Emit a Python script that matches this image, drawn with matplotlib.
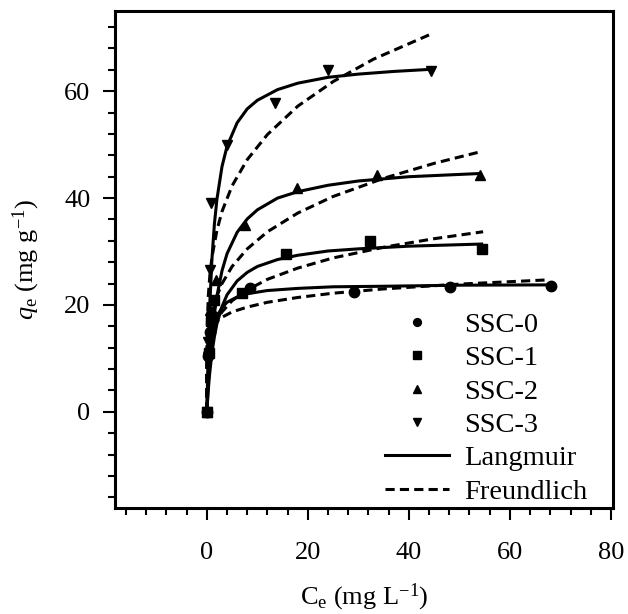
import matplotlib
matplotlib.use('Agg')
import matplotlib.pyplot as plt
from matplotlib.ticker import MultipleLocator

plt.rcParams['font.family'] = ['Liberation Serif', 'DejaVu Serif']
plt.rcParams['mathtext.fontset'] = 'custom'
plt.rcParams['mathtext.rm'] = 'Liberation Serif'
plt.rcParams['mathtext.it'] = 'Liberation Serif:italic'

# measured points (Ce, qe)
ssc0_x = [0, 0.3, 0.6, 1.2, 8.5, 29.2, 48.1, 68.1]
ssc0_y = [0, 10.5, 15.0, 18.0, 23.1, 22.5, 23.4, 23.6]
ssc1_x = [0, 0.4, 0.9, 1.5, 6.9, 15.6, 32.4, 54.4]
ssc1_y = [0, 11.0, 17.0, 21.0, 22.2, 29.5, 32.0, 30.4]
ssc2_x = [0, 0.3, 0.7, 1.9, 7.5, 17.8, 33.6, 54.1]
ssc2_y = [0, 12.0, 19.0, 24.7, 35.0, 41.8, 44.3, 44.3]
ssc3_x = [0, 0.2, 0.6, 0.9, 4.0, 13.5, 24.0, 44.4]
ssc3_y = [0, 13.0, 26.5, 39.0, 50.0, 57.8, 63.9, 63.8]

# Langmuir fit curves
lang0_x = [0, 0.1, 0.25, 0.5, 1, 1.5, 2, 3, 4, 6, 8, 12, 18, 25, 35, 50, 68.1]
lang0_y = [0, 3.06, 6.42, 10.1, 14.2, 16.5, 17.9, 19.5, 20.5, 21.5, 22.1, 22.7, 23.1, 23.4, 23.5, 23.7, 23.76]
lang1_x = [0, 0.25, 0.5, 1, 1.5, 2, 3, 4, 6, 8, 10, 14, 18, 24, 30, 40, 54.4]
lang1_y = [0, 3.69, 6.63, 11.0, 14.1, 16.5, 19.7, 21.9, 24.5, 26.1, 27.2, 28.5, 29.3, 30.1, 30.5, 31.0, 31.4]
lang2_x = [0, 0.25, 0.5, 1, 1.5, 2, 3, 4, 6, 8, 10, 14, 18, 24, 30, 40, 54.1]
lang2_y = [0, 4.57, 8.32, 14.1, 18.4, 21.7, 26.4, 29.6, 33.6, 36.1, 37.8, 40.0, 41.2, 42.4, 43.2, 44.0, 44.6]
lang3_x = [0, 0.25, 0.5, 1, 1.5, 2, 3, 4, 6, 8, 10, 14, 18, 24, 30, 37, 44.4]
lang3_y = [0, 10.5, 18.2, 28.5, 35.2, 39.8, 45.9, 49.7, 54.1, 56.7, 58.3, 60.3, 61.5, 62.6, 63.2, 63.7, 64.1]

# Freundlich fit curves
freu0_x = [0, 0.02, 0.1, 0.3, 0.6, 1, 2, 3, 5, 8, 12, 18, 25, 35, 50, 67.6]
freu0_y = [0, 10.3, 12.3, 13.8, 14.9, 15.7, 16.9, 17.7, 18.7, 19.6, 20.5, 21.4, 22.2, 23.0, 23.9, 24.7]
freu1_x = [0, 0.02, 0.1, 0.3, 0.6, 1, 2, 3, 5, 8, 12, 18, 25, 35, 45, 54.7]
freu1_y = [0, 6.8, 9.4, 11.8, 13.5, 15.0, 17.3, 18.7, 20.8, 22.8, 24.8, 26.9, 28.8, 30.8, 32.4, 33.7]
freu2_x = [0, 0.02, 0.1, 0.3, 0.6, 1, 2, 3, 5, 8, 12, 18, 25, 35, 45, 54.3]
freu2_y = [0, 7.04, 10.4, 13.7, 16.2, 18.33, 21.7, 24.0, 27.2, 30.5, 33.7, 37.2, 40.3, 43.7, 46.5, 48.7]
freu3_x = [0, 0.02, 0.1, 0.3, 0.6, 1, 2, 3, 5, 8, 12, 18, 25, 33, 44.4]
freu3_y = [0, 11.5, 16.8, 21.8, 25.6, 28.9, 34.0, 37.5, 42.3, 47.2, 51.9, 57.2, 61.8, 66.0, 70.7]

labels = ['SSC-0', 'SSC-1', 'SSC-2', 'SSC-3']
markers = ['o', 's', '^', 'v']

points = [(ssc0_x, ssc0_y), (ssc1_x, ssc1_y), (ssc2_x, ssc2_y), (ssc3_x, ssc3_y)]
lang = [(lang0_x, lang0_y), (lang1_x, lang1_y), (lang2_x, lang2_y), (lang3_x, lang3_y)]
freu = [(freu0_x, freu0_y), (freu1_x, freu1_y), (freu2_x, freu2_y), (freu3_x, freu3_y)]

fig = plt.figure(figsize=(6.28, 6.14), dpi=100)
ax = fig.add_axes([0.183, 0.1726, 0.793, 0.8094])

dash = (0, (3, 1.7))
handles = []
for (px, py), (lx, ly), (fx, fy), lab, m in zip(points, lang, freu, labels, markers):
    l_lang, = ax.plot(lx, ly, '-', color='k', lw=2.2, zorder=2)
    l_freu, = ax.plot(fx, fy, color='k', lw=2.2, linestyle=dash, zorder=2)
    h, = ax.plot(px, py, m, color='k', ms=7.5, linestyle='none', label=lab, zorder=3)
    handles.append(h)
l_lang.set_label('Langmuir')
l_freu.set_label('Freundlich')
handles += [l_lang, l_freu]

ax.set_xlim(-18.2, 80.4)
ax.set_ylim(-18, 75)
ax.xaxis.set_major_locator(MultipleLocator(20))
ax.xaxis.set_minor_locator(MultipleLocator(4))
ax.yaxis.set_major_locator(MultipleLocator(20))
ax.yaxis.set_minor_locator(MultipleLocator(4))
ax.tick_params(which='both', direction='out', top=False, right=False, width=1.5, labelsize=19)
ax.tick_params(which='major', length=8.5)
ax.tick_params(which='minor', length=5)
ax.tick_params(axis='x', which='major', pad=16)
ax.tick_params(axis='y', which='major', pad=9)
for s in ax.spines.values():
    s.set_linewidth(2.2)

ax.set_xlabel(r'C$_{\mathrm{e}}$ (mg L$^{-1}$)', fontsize=19, labelpad=13)
ax.set_ylabel(r'$q_{\mathrm{e}}$ (mg g$^{-1}$)', fontsize=19, labelpad=16)

ax.legend(handles=handles, loc='lower right', bbox_to_anchor=(1.0, -0.045), frameon=False,
          fontsize=20.5, markerscale=0.75, handlelength=2.25, labelspacing=0.26,
          handletextpad=0.53)

plt.savefig('out.png', dpi=100)
